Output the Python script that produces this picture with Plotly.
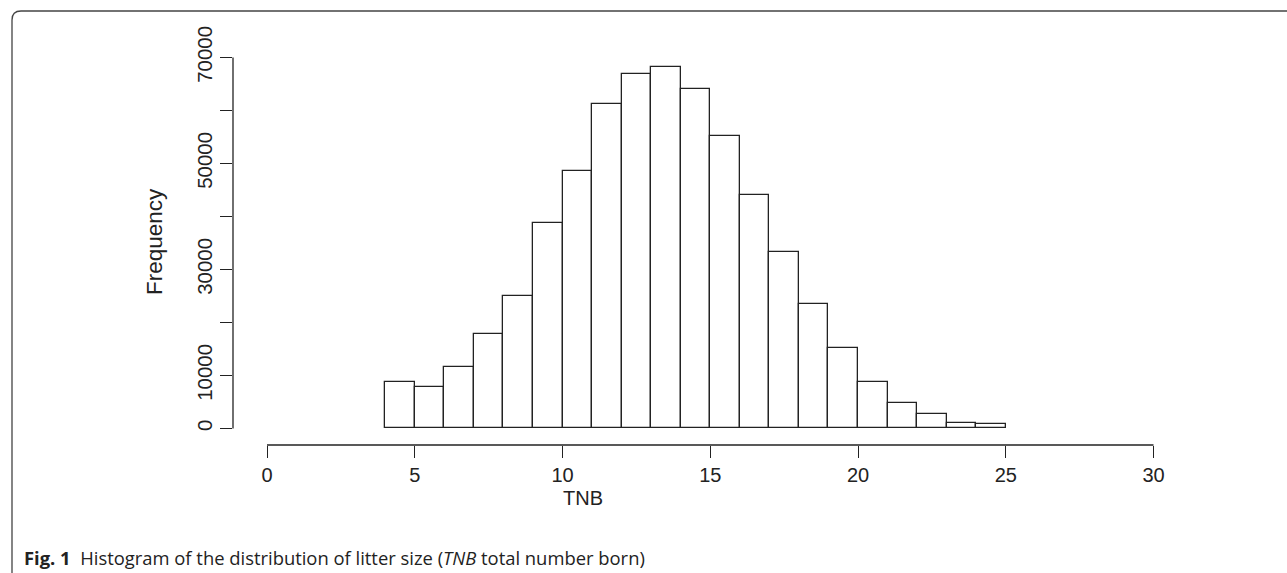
import plotly.graph_objects as go

# Litter size histogram: bin left edges (TNB) and counts per unit-width bin
bin_left = [4, 5, 6, 7, 8, 9, 10, 11, 12, 13, 14, 15, 16, 17, 18, 19, 20, 21, 22, 23, 24]
counts = [8800, 7900, 11600, 17800, 24900, 38700, 48500, 61200, 66900, 68100, 64100,
          55200, 44100, 33300, 23400, 15200, 8800, 4800, 2700, 1100, 900]
x_ticks = [0, 5, 10, 15, 20, 25, 30]
y_ticks = [0, 10000, 20000, 30000, 40000, 50000, 60000, 70000]
y_tick_text = ["0", "10000", "", "30000", "", "50000", "", "70000"]

W, H = 1287, 573
L, R, T, B = 233, 122, 50, 128          # plot-area margins in px
X0_PX, X_SCALE = 267.0, 29.55           # px of x=0, px per unit
Y0_PX, Y_SCALE = 428.4, 371.0 / 70000   # px of y=0, px per count

plot_w = W - L - R
plot_h = H - T - B
x_range = [(L - X0_PX) / X_SCALE, (W - R - X0_PX) / X_SCALE]
y_range = [-((H - B) - Y0_PX) / Y_SCALE, (Y0_PX - T) / Y_SCALE]


def px(xp):
    return (xp - L) / plot_w


def py(yp):
    return ((H - B) - yp) / plot_h


INK = "#222222"
FAMILY = "Liberation Sans, Arial, sans-serif"
X_FONT = dict(family=FAMILY, size=20, color=INK)
Y_FONT = dict(family=FAMILY, size=20.5, color=INK)

fig = go.Figure(
    go.Bar(
        x=[b + 0.5 for b in bin_left],
        y=counts,
        width=1,
        marker=dict(color="white", line=dict(color=INK, width=1.3)),
        hovertemplate="TNB %{x}<br>Frequency %{y}<extra></extra>",
    )
)

fig.update_xaxes(
    range=x_range, tickvals=x_ticks, ticks="outside", ticklen=12, tickwidth=1.3,
    tickcolor=INK, showline=False, showgrid=False, zeroline=False,
    tickfont=X_FONT,
)
fig.update_yaxes(
    range=y_range, tickvals=y_ticks, ticktext=y_tick_text, ticks="outside",
    ticklen=12, tickwidth=1.3, tickcolor=INK, tickangle=-90, showline=False,
    showgrid=False, zeroline=False, tickfont=Y_FONT,
)

shapes = [
    # axis lines spanning only the tick range
    dict(type="line", xref="paper", yref="y", x0=0, x1=0, y0=0, y1=70000,
         line=dict(color=INK, width=1.3)),
    dict(type="line", xref="x", yref="paper", x0=0, x1=30, y0=0, y1=0,
         line=dict(color=INK, width=1.3)),
    # figure frame: top and left edges with a rounded corner
    dict(type="path", xref="paper", yref="paper",
         path=(f"M {px(W + 2)},{py(11)} L {px(21)},{py(11)} "
               f"Q {px(12)},{py(11)} {px(12)},{py(20)} L {px(12)},{py(H + 2)}"),
         line=dict(color="#444444", width=1.3)),
]

annotations = [
    dict(text="Frequency", xref="paper", yref="paper", x=px(154), y=py(242),
         textangle=-90, showarrow=False, font=dict(family=FAMILY, size=22.5, color=INK),
         xanchor="center", yanchor="middle"),
    dict(text="TNB", xref="paper", yref="paper", x=px(583), y=py(498),
         showarrow=False, font=X_FONT, xanchor="center", yanchor="middle"),
    dict(text="<b>Fig. 1</b>  Histogram of the distribution of litter size "
              "(<i>TNB</i> total number born)",
         xref="paper", yref="paper", x=px(22), y=py(557), showarrow=False,
         xanchor="left", yanchor="middle",
         font=dict(family="Open Sans, Noto Sans, sans-serif", size=18.4, color="#222222")),
]

fig.update_layout(
    width=W, height=H,
    margin=dict(l=L, r=R, t=T, b=B, pad=0),
    paper_bgcolor="white", plot_bgcolor="white",
    showlegend=False, bargap=0,
    shapes=shapes, annotations=annotations,
)

fig.write_html("out.html", config=dict(displayModeBar=False))
